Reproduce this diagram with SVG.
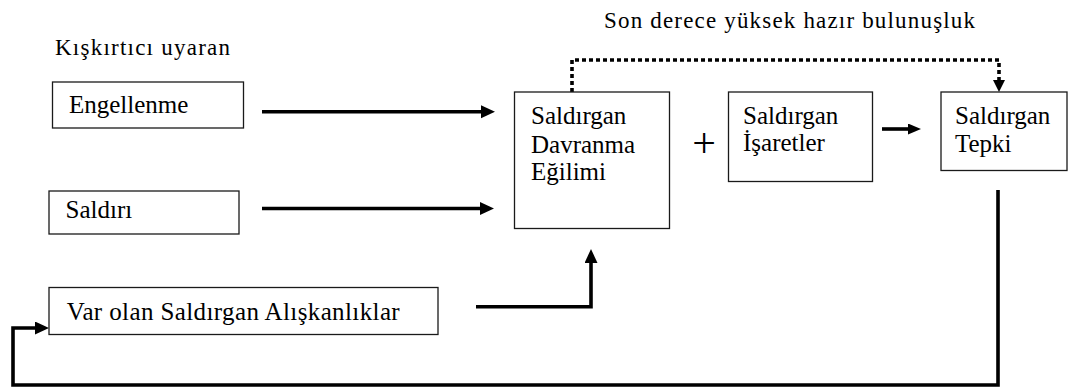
<svg xmlns="http://www.w3.org/2000/svg" width="1070" height="391" viewBox="0 0 1070 391">
  <defs>
    <style>
      .box { fill: #ffffff; stroke: #1a1a1a; stroke-width: 1.3; }
      .lbl { font-family: "Liberation Serif", "Times New Roman", serif; font-size: 25px; fill: #000; }
      .hdr { font-family: "Liberation Serif", "Times New Roman", serif; font-size: 23px; fill: #000; }
      .conn { fill: none; stroke: #000; stroke-width: 3.6; stroke-linejoin: miter; }
      .dot { fill: none; stroke: #000; stroke-width: 3.6; stroke-dasharray: 4 3; }
    </style>
    <marker id="arr" markerUnits="userSpaceOnUse" markerWidth="15" markerHeight="14" refX="6" refY="6.5" orient="auto">
      <path d="M0,0 L14,6.5 L0,13 z" fill="#000"/>
    </marker>
    <marker id="arrS" markerUnits="userSpaceOnUse" markerWidth="14" markerHeight="12" refX="5" refY="5.5" orient="auto">
      <path d="M0,0 L13,5.5 L0,11 z" fill="#000"/>
    </marker>
  </defs>

  <rect width="1070" height="391" fill="#ffffff"/>

  <text id="title" class="hdr" x="604" y="28" textLength="371" lengthAdjust="spacing">Son derece yüksek hazır bulunuşluk</text>
  <text id="stimulus" class="hdr" x="55" y="55" textLength="175" lengthAdjust="spacing">Kışkırtıcı uyaran</text>

  <g id="connectors">
    <path class="conn" d="M262,111.7 H487" marker-end="url(#arr)"/>
    <path class="conn" d="M262,208.5 H486" marker-end="url(#arr)"/>
    <path class="conn" d="M476,306.7 H591 V257" marker-end="url(#arr)"/>
    <path class="conn" d="M882,129 H913" marker-end="url(#arrS)"/>
    <path class="dot" d="M572,92 V60 H999 V84"/>
    <path d="M993,80 L1005,80 L999,92 z" fill="#000"/>
    <path class="conn" d="M998,190 V385 H13 V328 H41" marker-end="url(#arr)"/>
  </g>

  <g id="engellenme">
    <rect class="box" x="52.5" y="82" width="191" height="46"/>
    <text class="lbl" x="69" y="113">Engellenme</text>
  </g>

  <g id="saldiri">
    <rect class="box" x="49" y="191" width="190" height="43"/>
    <text class="lbl" x="65.5" y="217.5">Saldırı</text>
  </g>

  <g id="var-olan">
    <rect class="box" x="49" y="287.5" width="389" height="47"/>
    <text class="lbl" x="66.7" y="320" textLength="333" lengthAdjust="spacing">Var olan Saldırgan Alışkanlıklar</text>
  </g>

  <g id="egilim">
    <rect class="box" x="514.5" y="92" width="155" height="136.5"/>
    <text class="lbl" x="531" y="124">Saldırgan</text>
    <text class="lbl" x="531" y="152.5">Davranma</text>
    <text class="lbl" x="531" y="180">Eğilimi</text>
  </g>

  <text id="plus" class="lbl" x="704" y="156.5" text-anchor="middle" style="font-size: 42px;">+</text>

  <g id="isaretler">
    <rect class="box" x="728.5" y="92" width="144" height="89.5"/>
    <text class="lbl" x="743" y="124">Saldırgan</text>
    <text class="lbl" x="743" y="151">İşaretler</text>
  </g>

  <g id="tepki">
    <rect class="box" x="941" y="92" width="126" height="78.5"/>
    <text class="lbl" x="955" y="124">Saldırgan</text>
    <text class="lbl" x="955" y="151.5">Tepki</text>
  </g>
</svg>
